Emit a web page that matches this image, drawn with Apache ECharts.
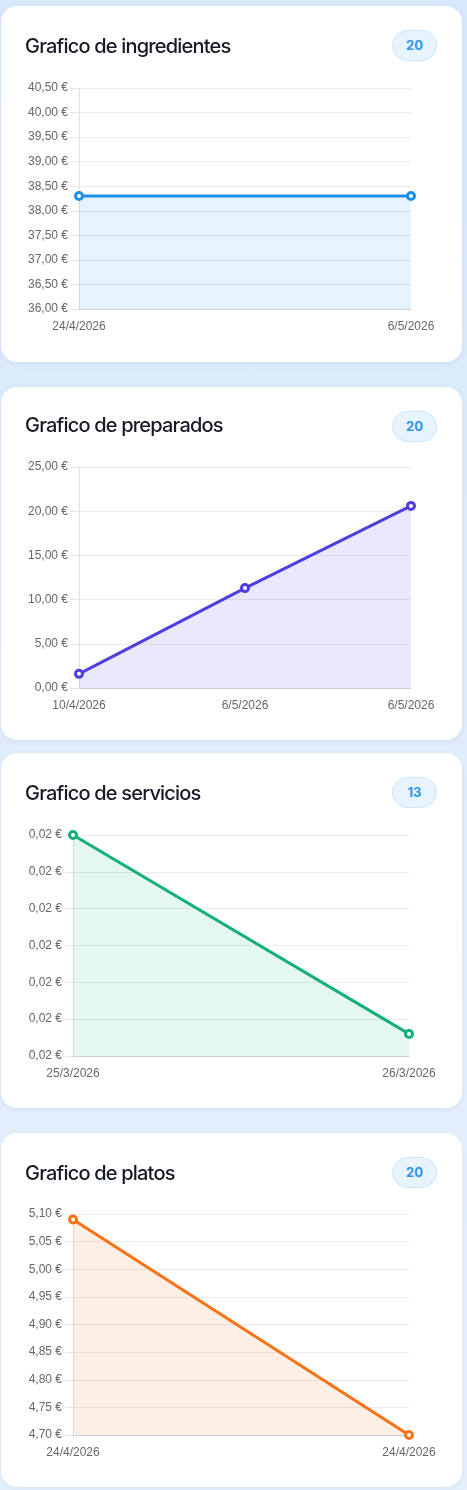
<!DOCTYPE html>
<html>
<head>
<meta charset="utf-8">
<script src="https://cdn.jsdelivr.net/npm/echarts@6/dist/echarts.min.js"></script>
<style>
  html, body { margin: 0; padding: 0; }
  body {
    width: 467px; height: 1490px; overflow: hidden; position: relative;
    background: linear-gradient(180deg, #d7e8fb 0%, #e1edfc 50%, #e7f1fd 100%);
    font-family: Inter, "Noto Sans", sans-serif;
  }
  .card {
    position: absolute; left: 1px; width: 461px; background: #fff;
    border-radius: 16px; box-shadow: 0 2px 6px rgba(80,120,170,0.10);
  }
  .title {
    position: absolute; left: 24px; font-size: 20px; font-weight: 500;
    color: #161a26; letter-spacing: -0.8px; line-height: 24px; white-space: nowrap;
  }
  .badge {
    position: absolute; right: 25px; width: 43px; height: 29px; border-radius: 16px;
    background: #e7f3fd; border: 1px solid #cbe5fa; color: #2f95ea;
    font-size: 13px; font-weight: 700; text-align: center; line-height: 29px;
    font-family: Inter, sans-serif;
  }
  .chart { position: absolute; left: 0; top: 0; width: 461px; }
</style>
</head>
<body>
<script>
// ---- data ----
const titles = ["Grafico de ingredientes", "Grafico de preparados", "Grafico de servicios", "Grafico de platos"];
const badges = ["20", "20", "13", "20"];

const ingredientesDates = ["24/4/2026", "6/5/2026"];
const ingredientesValues = [38.30, 38.30];

const preparadosDates = ["10/4/2026", "6/5/2026", "6/5/2026"];
const preparadosValues = [1.60, 11.30, 20.60];

const serviciosDates = ["25/3/2026", "26/3/2026"];
const serviciosValues = [0.0201, 0.01956];

const platosDates = ["24/4/2026", "24/4/2026"];
const platosValues = [5.09, 4.70];

// axis ranges (min, max, interval)
const ingredientesAxis = [36, 40.5, 0.5];
const preparadosAxis = [0, 25, 5];
const serviciosAxis = [0.0195, 0.0201, 0.0001];
const platosAxis = [4.70, 5.10, 0.05];

// ---- layout ----
const cards = [
  { top: 6,    height: 356, title: 44, badge: 24, gridLeft: 78, gridRight: 51, gridTop: 82, color: '#1e8fe6', fill: 'rgba(33,150,243,0.17)', dates: ingredientesDates, values: ingredientesValues, axis: ingredientesAxis },
  { top: 387,  height: 353, title: 42, badge: 24, gridLeft: 78, gridRight: 51, gridTop: 80, color: '#4f3fe0', fill: 'rgba(79,70,229,0.17)', dates: preparadosDates, values: preparadosValues, axis: preparadosAxis },
  { top: 753,  height: 355, title: 44, badge: 24, gridLeft: 72, gridRight: 53, gridTop: 82, color: '#14b07a', fill: 'rgba(16,185,129,0.16)', dates: serviciosDates, values: serviciosValues, axis: serviciosAxis },
  { top: 1133, height: 354, title: 44, badge: 24, gridLeft: 72, gridRight: 53, gridTop: 81, color: '#f97316', fill: 'rgba(249,115,22,0.17)', dates: platosDates, values: platosValues, axis: platosAxis }
];

const euro = v => new Intl.NumberFormat('es-ES', { minimumFractionDigits: 2, maximumFractionDigits: 2, useGrouping: false }).format(v) + ' €';

cards.forEach((c, i) => {
  const card = document.createElement('div');
  card.className = 'card';
  card.style.top = c.top + 'px';
  card.style.height = c.height + 'px';
  document.body.appendChild(card);

  const chartDiv = document.createElement('div');
  chartDiv.className = 'chart';
  chartDiv.style.height = c.height + 'px';
  card.appendChild(chartDiv);

  const t = document.createElement('div');
  t.className = 'title';
  t.style.top = (c.title - 12 - 4) + 'px';
  t.textContent = titles[i];
  card.appendChild(t);

  const b = document.createElement('div');
  b.className = 'badge';
  b.style.top = c.badge + 'px';
  b.textContent = badges[i];
  card.appendChild(b);

  const chart = echarts.init(chartDiv, null, { renderer: 'canvas' });
  chart.setOption({
    animation: false,
    grid: { left: c.gridLeft, right: c.gridRight, top: c.gridTop, height: 221 },
    xAxis: {
      type: 'category', boundaryGap: false, data: c.dates,
      axisLine: { lineStyle: { color: '#cfcfcf', width: 1 } },
      axisTick: { show: false },
      axisLabel: { interval: 0, color: '#666', fontSize: 12, fontFamily: 'Liberation Sans, Arial, sans-serif', margin: 12 },
      splitLine: { show: false }
    },
    yAxis: {
      type: 'value', min: c.axis[0], max: c.axis[1], interval: c.axis[2],
      axisLine: { show: true, lineStyle: { color: '#e2e2e2', width: 1 } },
      axisTick: { show: true, length: 8, lineStyle: { color: '#e6e6e6' } },
      axisLabel: { color: '#666', fontSize: 12, fontFamily: 'Liberation Sans, Arial, sans-serif', margin: 11, formatter: euro },
      splitLine: { lineStyle: { color: '#ebebeb', width: 1 } }
    },
    series: [{
      type: 'line', data: c.values,
      symbol: 'circle', symbolSize: 7, showSymbol: true,
      lineStyle: { color: c.color, width: 3 },
      itemStyle: { color: '#fff', borderColor: c.color, borderWidth: 3 },
      areaStyle: { color: c.fill, origin: 'start' },
      z: 3
    }]
  });
});
</script>
</body>
</html>
